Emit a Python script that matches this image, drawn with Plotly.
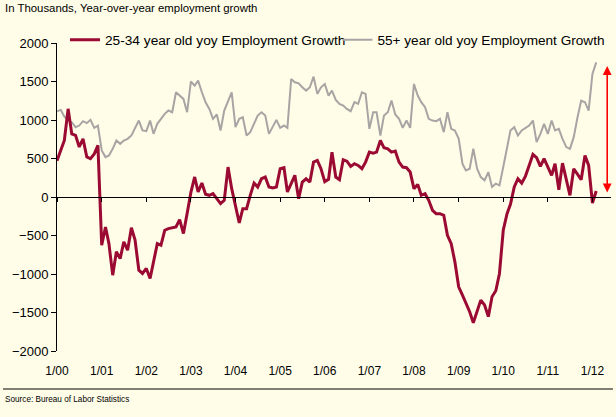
import plotly.graph_objects as go
import pandas as pd

months = pd.date_range("2000-01-01", periods=146, freq="MS")

red_2534 = [470, 605, 735, 1145, 820, 800, 650, 755, 520, 497, 560, 670,
            -626, -390, -605, -1015, -712, -800, -583, -690, -400, -560, -950, -993,
            -928, -1058, -820, -605, -626, -432, -410, -400, -390, -294, -475, -216,
            60, 260, 65, 181, 35, 22, 43, -22, -86, -43, 389, 108,
            -108, -337, -151, -151, 22, 181, 130, 237, 259, 130, 117, 130,
            367, 380, 65, 173, 281, -22, 194, 237, 194, 453, 475, 367,
            200, 230, 583, 259, 225, 484, 466, 397, 432, 410, 367, 453,
            583, 570, 583, 734, 639, 626, 583, 596, 453, 389, 380, 324,
            108, 164, 22, 43, -43, -173, -216, -216, -237, -497, -605, -842,
            -1166, -1274, -1382, -1490, -1632, -1490, -1339, -1403, -1554, -1295, -1218, -993,
            -432, -216, -95, 130, 237, 181, 268, 410, 553, 510, 397, 497,
            389, 281, 432, 95, 440, 216, 22, 367, 302, 225, 540, 410,
            -78, 78]

gray_55 = [1114, 1131, 1045, 993, 971, 907, 928, 985, 959, 1002, 898, 928,
           605, 518, 540, 626, 734, 691, 734, 756, 799, 885, 993, 864,
           855, 993, 820, 950, 1015, 1080, 1123, 1101, 1360, 1317, 1274, 1101,
           1500, 1447, 1511, 1360, 1231, 1144, 1015, 1071, 864, 1123, 1252, 1360,
           907, 1015, 1036, 799, 842, 950, 1058, 1101, 1058, 820, 915, 1002,
           898, 928, 898, 1533, 1490, 1477, 1425, 1382, 1425, 1563, 1339, 1425,
           1468, 1317, 1382, 1261, 1209, 1187, 1144, 1114, 1231, 1209, 1360, 1339,
           885, 1101, 1101, 799, 1058, 1101, 1252, 1071, 1015, 898, 993, 898,
           1468, 1317, 1231, 1166, 1015, 993, 985, 1015, 842, 1101, 885, 864,
           760, 432, 345, 367, 626, 367, 259, 216, 324, 130, 173, 151,
           389, 648, 864, 907, 799, 864, 898, 928, 993, 712, 820, 950,
           820, 993, 864, 885, 756, 648, 626, 777, 1036, 1252, 1231, 1123,
           1598, 1749]

tick_dates = pd.date_range("2000-01-01", "2012-01-01", freq="YS")
tick_labels = ["1/00", "1/01", "1/02", "1/03", "1/04", "1/05", "1/06",
               "1/07", "1/08", "1/09", "1/10", "1/11", "1/12"]
y_ticks = list(range(-2000, 2001, 500))

arrow_x = "2012-05-01"
arrow_top = 1700
arrow_bottom = 40

FONT = "Arial, Liberation Sans, sans-serif"
BG = "#FFFDE8"
x_range = ["2000-01-01", "2012-06-01"]

fig = go.Figure()
fig.add_trace(go.Scatter(x=months, y=red_2534, mode="lines",
                         name="25-34 year old yoy Employment Growth",
                         line=dict(color="#9B0A32", width=3), xaxis="x2",
                         legend="legend"))
fig.add_trace(go.Scatter(x=months, y=gray_55, mode="lines",
                         name="55+ year old yoy Employment Growth",
                         line=dict(color="#A8A4A4", width=2), legend="legend2"))

fig.add_annotation(x=arrow_x, y=arrow_top, ax=arrow_x, ay=arrow_bottom,
                   xref="x", yref="y", axref="x", ayref="y", text="",
                   showarrow=True, arrowhead=2, arrowside="end+start",
                   arrowsize=1.1, arrowwidth=1.6, arrowcolor="#FF0000",
                   standoff=0, startstandoff=0)

fig.add_annotation(text="In Thousands, Year-over-year employment growth",
                   xref="paper", yref="paper", x=-0.098, y=1.113,
                   xanchor="left", yanchor="middle", showarrow=False,
                   font=dict(family=FONT, size=11.4, color="#000000"))
fig.add_annotation(text="Source: Bureau of Labor Statistics",
                   xref="paper", yref="paper", x=-0.098, y=-0.159,
                   xanchor="left", yanchor="middle", showarrow=False,
                   font=dict(family=FONT, size=8.2, color="#000000"))
fig.add_shape(type="line", xref="paper", yref="paper",
              x0=-0.0975, x1=1.0036, y0=-0.1234, y1=-0.1234,
              line=dict(color="#000000", width=1))

legend_common = dict(orientation="h", y=1.01, yanchor="middle",
                     bgcolor="rgba(0,0,0,0)", itemwidth=30)

fig.update_layout(
    width=616, height=417,
    margin=dict(l=57, r=5, t=43, b=66),
    paper_bgcolor=BG, plot_bgcolor=BG,
    font=dict(family=FONT, size=13, color="#000000"),
    showlegend=True,
    legend=dict(x=0.0144, xanchor="left", font=dict(size=13.7), **legend_common),
    legend2=dict(x=0.999, xanchor="right", font=dict(size=13.6), **legend_common),
    xaxis=dict(type="date", range=x_range, tickvals=tick_dates, ticktext=tick_labels,
               showgrid=False, zeroline=False, showline=False, automargin=False,
               ticks="outside", ticklen=9, tickcolor="rgba(0,0,0,0)",
               tickfont=dict(size=12)),
    xaxis2=dict(type="date", range=x_range, overlaying="x", anchor="free", position=0.5,
                tickvals=tick_dates, showticklabels=False, showgrid=False, zeroline=False,
                showline=True, linecolor="#000000", linewidth=1, automargin=False,
                ticks="outside", ticklen=4, tickcolor="#000000"),
    yaxis=dict(range=[-2000, 2000], tickvals=y_ticks, showgrid=False, zeroline=False,
               showline=True, linecolor="#000000", linewidth=1, automargin=False,
               ticks="outside", ticklen=5, tickcolor="#000000",
               tickfont=dict(size=13)),
)

fig.write_html("out.html", config={"displayModeBar": False},
               post_script="document.body.style.margin='0px';document.body.style.background='%s';" % BG)
